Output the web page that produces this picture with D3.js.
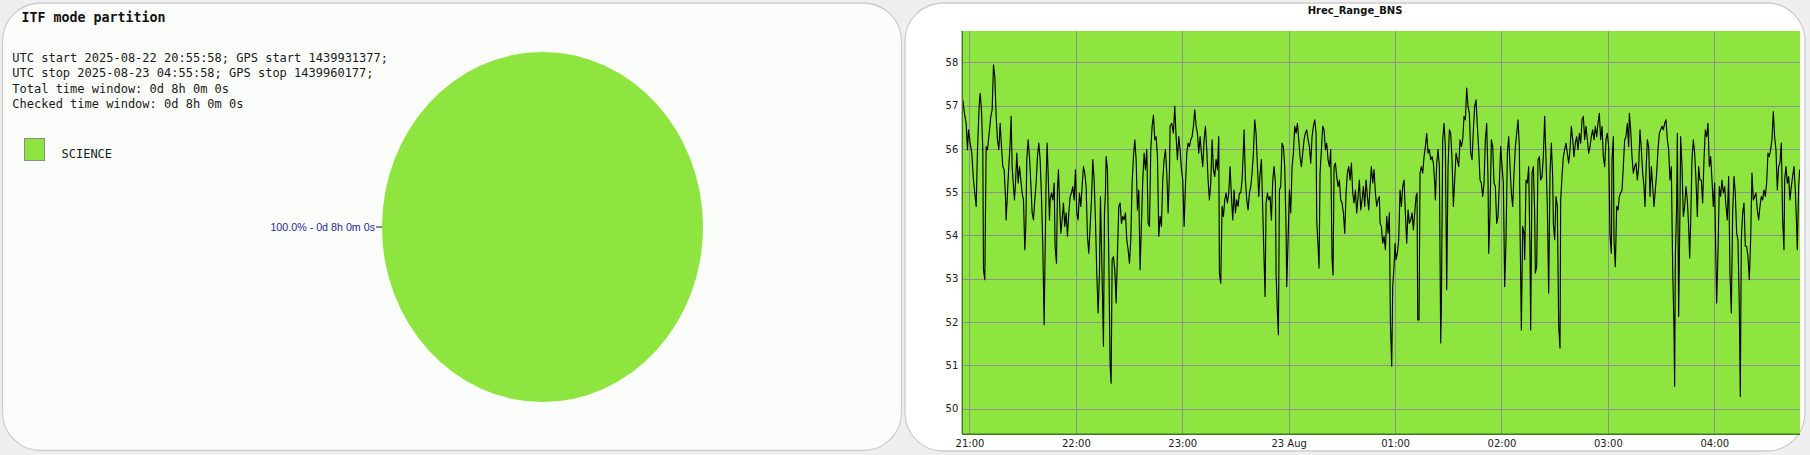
<!DOCTYPE html>
<html><head><meta charset="utf-8">
<script src="https://cdn.jsdelivr.net/npm/d3@7"></script>
<style>
html,body{margin:0;padding:0;background:#efefef;}
svg{display:block}
</style></head><body>
<svg id="c" width="1810" height="455"></svg>
<script>
// ---------------- DATA ----------------
// Left panel: ITF mode partition
const infoLines = [
  "UTC start 2025-08-22 20:55:58; GPS start 1439931377;",
  "UTC stop 2025-08-23 04:55:58; GPS stop 1439960177;",
  "Total time window: 0d 8h 0m 0s",
  "Checked time window: 0d 8h 0m 0s"
];
const modes = ["SCIENCE"];
const modeSeconds = [28800];
const modeLabels = ["100.0% - 0d 8h 0m 0s"];

// Right panel: Hrec_Range_BNS  — [minutes after 2025-08-22 21:00 UTC, value]
const seg1 = [[-3.74,57.13],[-2.99,56.86],[-1.86,56.59],[-1.11,55.98],[-0.54,56.44],[0.39,56.13],[1.33,55.90],[2.27,55.28],[3.21,54.90],[3.78,54.67],
[4.53,55.98],[5.47,56.98],[6.03,57.28],[6.78,56.90],[7.53,55.98],[7.91,53.21],[8.66,52.98],[9.41,56.05],[10.17,55.98],[10.92,56.28],
[12.05,56.75],[12.80,56.90],[13.55,57.94],[14.30,57.67],[15.05,56.75],[15.80,56.21],[16.56,55.98],[17.31,56.59],[18.06,56.05],[18.81,55.59],
[19.56,55.52],[20.31,54.90],[20.69,54.36],[21.44,54.98],[22.19,55.59],[22.95,56.13],[23.51,56.75],[24.07,55.59],[24.82,55.13],[25.39,54.82],
[25.95,55.21],[26.70,55.90],[27.45,55.21],[28.21,55.59],[28.96,55.28],[29.71,54.98],[30.46,54.82],[31.21,53.67],[31.78,54.21],[32.34,55.75],
[33.09,56.21],[33.84,55.82],[34.60,55.21],[35.35,54.52],[36.10,54.36],[36.85,54.82],[37.60,55.21],[38.35,55.82],[39.11,56.13],[39.86,55.75],
[40.61,54.90],[41.36,53.75],[42.11,51.94],[42.86,54.21],[43.24,55.28],[43.80,56.13],[44.37,55.44],[45.12,54.36],[45.49,54.82],[46.25,54.98],
[47.00,54.82],[47.75,55.21],[48.31,53.75],[49.07,53.36],[49.63,55.05],[50.19,55.52],[50.76,54.82],[51.51,54.05],[52.26,54.36],[53.01,54.75],
[53.76,54.21],[54.52,54.52],[55.27,53.98],[56.02,54.52],[56.77,54.90],[57.52,54.98],[58.27,55.13],[59.03,54.82],[59.78,55.52],[60.53,54.52],
[61.28,54.36],[62.03,54.98],[62.78,54.67],[63.53,55.13],[64.29,55.59],[65.04,55.44],[65.79,55.13],[66.54,53.98],[67.29,53.59],[68.05,54.21],
[68.80,54.82],[69.55,55.75],[70.30,55.28],[71.05,54.36],[71.80,53.13],[72.56,52.21],[73.31,53.13],[73.87,54.90],[74.44,53.75],[75.00,52.67],
[75.56,51.44],[76.13,54.52],[76.69,54.98],[77.07,55.82],[77.82,55.52],[78.57,53.51],[79.32,50.98],[79.89,50.59],[80.45,53.44],[81.20,53.51],
[81.95,53.21],[82.71,52.44],[83.46,53.59],[84.21,54.67],[84.96,54.75],[85.71,54.28],[86.46,54.44],[87.21,54.36],[87.97,54.52],[88.72,53.90],
[89.47,53.67],[90.22,53.36],[90.97,53.90],[91.72,55.21],[92.48,55.82],[93.23,56.21],[93.98,55.75],[94.73,54.59],[95.48,55.05],[96.23,53.21],
[96.99,54.28],[97.74,55.28],[98.49,55.90],[99.24,55.52],[99.99,55.98],[100.74,54.28],[101.50,54.21],[102.25,55.98],[103.00,56.52],[103.75,56.78],
[104.50,56.21],[105.25,56.28],[106.01,55.82],[106.76,53.98],[107.51,54.44],[108.26,54.21],[109.01,55.28],[109.76,55.75],[110.52,55.98],[111.27,55.44],
[112.02,54.52],[112.77,55.44]];
const seg2 = [[113.14,56.52],[114.08,56.59],[115.02,56.36],[115.77,56.98],[116.52,56.28],[117.27,55.75],[118.03,56.28],[118.78,55.98],[119.53,55.52],[120.28,55.28],
[121.03,54.21],[121.78,55.13],[122.54,55.90],[123.29,56.13],[124.04,56.05],[124.79,56.21],[125.54,56.28],[126.29,56.52],[127.05,56.90],[127.80,56.52],
[128.55,56.36],[129.30,55.90],[130.05,56.28],[130.80,55.90],[131.56,55.59],[132.31,56.21],[133.06,56.52],[133.81,55.98],[134.56,55.28],[135.31,54.82],
[136.07,55.21],[136.82,56.21],[137.57,55.52],[138.32,55.36],[139.07,55.75],[139.82,55.52],[140.58,56.28],[140.95,53.13],[141.70,52.90],[142.46,54.67],
[143.21,54.44],[143.96,54.82],[144.71,54.98],[145.46,54.75],[146.21,54.98],[146.97,55.59],[147.72,54.90],[148.47,54.36],[149.22,55.05],[149.97,54.52],
[150.72,54.82],[151.48,54.67],[152.23,54.98],[152.98,54.98],[153.73,55.28],[154.48,55.98],[154.86,56.44],[155.61,55.28],[156.36,54.82],[157.11,54.59],
[157.87,54.98],[158.62,55.13],[159.37,55.44],[160.12,55.90],[160.87,56.67],[161.62,56.36],[162.38,55.59],[163.13,54.90],[163.88,55.44],[164.63,55.75],
[165.38,54.59],[166.13,53.44],[166.70,52.59],[167.26,54.75],[168.01,54.98],[168.76,54.82],[169.52,54.90],[170.27,54.36],[171.02,55.28],[171.77,55.59],
[172.52,55.21],[172.90,53.13],[173.65,52.21],[174.21,51.71],[174.78,55.05],[175.53,55.13],[176.28,56.13],[177.03,56.05],[177.78,55.59],[178.54,54.13],
[178.91,52.82],[179.66,53.90],[180.42,55.05],[181.17,54.52],[181.92,55.59],[182.67,55.90],[183.42,56.52],[184.17,56.36],[184.93,56.59],[185.68,56.21],
[186.43,55.82],[187.18,55.59],[187.93,55.90],[188.68,56.21],[189.44,56.36],[190.19,56.44],[190.94,56.21],[191.69,56.05],[192.44,55.67],[193.19,56.28],
[193.95,56.52],[194.70,56.67],[195.45,56.36],[195.82,54.36],[196.58,53.75],[197.14,53.25],[197.70,55.44],[198.46,55.98],[199.21,56.52],[199.96,56.44],
[200.71,55.98],[201.46,56.13],[202.21,55.75],[202.97,55.59],[203.72,55.98],[204.47,53.44],[205.03,53.09],[205.60,55.59],[206.35,55.67],[207.10,55.36],
[207.85,55.13],[208.60,55.28],[209.35,54.82],[210.11,54.75],[210.86,54.52],[211.61,54.05],[212.36,54.98],[213.11,55.44],[213.87,55.59],[214.62,55.28],
[215.37,55.67],[216.12,54.98],[216.87,54.75],[217.62,55.05],[218.38,54.52],[219.13,54.90],[219.88,55.28],[220.63,54.59],[221.38,54.82],[222.13,55.13],
[222.89,54.67],[223.64,55.28],[224.39,54.90],[225.14,54.59],[225.89,55.13],[226.64,55.59],[227.40,55.21],[228.15,55.52],[228.90,54.98],[229.65,54.67],
[230.40,54.82],[231.15,54.90]];
const seg3 = [[231.53,54.28],[232.28,54.21],[233.03,53.82],[233.79,53.98],[234.54,53.67],[235.29,54.44],[236.04,54.05],[236.79,54.52],[237.36,51.98],[238.11,50.98],
[238.67,52.82],[239.42,53.28],[239.99,53.82],[240.55,53.44],[241.30,53.59],[242.05,53.90],[242.81,55.05],[243.56,54.67],[244.31,55.13],[245.06,55.28],
[245.81,54.52],[246.56,53.82],[247.32,54.59],[248.07,54.28],[248.82,54.36],[249.57,54.52],[250.32,54.13],[251.07,54.52],[251.83,54.90],[252.39,54.98],
[252.77,52.05],[253.52,52.05],[254.08,55.44],[254.83,55.59],[255.58,55.44],[256.34,55.82],[257.09,56.05],[257.84,56.36],[258.59,55.90],[259.34,55.98],
[260.09,55.75],[260.85,55.82],[261.60,55.67],[262.35,55.21],[262.73,54.82],[263.48,55.67],[264.23,55.98],[264.98,55.59],[265.73,51.52],[266.11,52.36],
[266.86,56.21],[267.61,56.59],[268.36,56.05],[269.11,52.75],[269.87,55.59],[270.62,56.44],[271.37,56.36],[272.12,55.75],[272.87,54.67],[273.62,55.28],
[274.38,55.90],[275.13,55.75],[275.88,55.59],[276.63,56.21],[277.38,56.05],[278.13,56.21],[278.89,56.75],[279.64,56.67],[280.39,57.40],[281.14,56.98],
[281.89,56.82],[282.64,55.90],[283.40,55.75],[284.15,56.44],[284.90,56.98],[285.65,57.13],[286.40,56.52],[287.15,55.98],[287.91,55.28],[288.66,55.21],
[289.41,54.90],[290.16,55.21],[290.91,56.21],[291.66,56.59],[292.42,55.28],[292.79,53.59],[293.54,54.52],[294.29,56.21],[295.05,56.05],[295.80,55.21],
[296.55,55.13],[297.30,54.28],[298.05,54.44],[298.81,55.21],[299.56,56.05],[300.31,55.59],[301.06,55.21],[301.81,52.82],[302.56,53.90],[303.32,55.90],
[304.07,56.28],[304.82,55.59],[305.57,54.98],[306.32,54.67],[307.07,55.44],[307.83,56.05],[308.58,56.36],[309.33,56.67],[310.08,56.05],[310.46,54.21],
[311.21,51.82],[311.96,54.21],[312.71,54.05],[313.09,53.44],[313.84,55.28],[314.59,55.21],[315.34,55.59],[316.09,53.59],[316.47,51.82],[317.22,55.44],
[317.97,55.59],[318.72,54.52],[319.10,53.13],[319.85,53.28],[320.60,55.75],[321.36,55.82],[322.11,55.28],[322.86,55.36],[323.61,55.82],[324.36,56.75],
[325.11,55.75],[325.87,54.67],[326.62,52.67],[327.37,55.44],[328.12,56.13],[328.87,55.36],[329.25,54.28],[330.00,53.90],[330.75,54.90],[331.50,54.67],
[332.26,51.90],[333.01,51.40],[333.38,54.82],[334.13,55.36],[334.89,55.82],[335.64,55.98],[336.39,56.13],[337.14,55.90],[337.89,55.67],[338.64,55.98],
[339.40,56.52],[340.15,56.21],[340.90,55.82],[341.65,56.13],[342.40,56.28],[343.15,55.98],[343.91,56.36],[344.66,56.13],[345.41,56.67],[346.16,56.75],
[346.91,56.21],[347.66,56.52],[348.42,56.21],[349.17,55.90]];
const seg4 = [[349.92,56.05],[350.67,56.28],[351.42,56.44],[352.18,56.21],[352.93,56.52],[353.68,56.28],[354.43,56.59],[355.18,56.82],[355.93,56.21],[356.69,56.52],
[357.44,55.82],[358.19,55.59],[358.94,56.21],[359.69,56.36],[360.44,56.05],[361.20,53.98],[361.95,53.59],[362.32,55.75],[363.07,56.28],[363.45,53.90],
[364.20,53.28],[364.95,54.67],[365.71,54.59],[366.46,54.90],[367.21,54.98],[367.96,55.05],[368.71,55.59],[369.46,56.21],[370.22,56.28],[370.97,56.59],
[371.72,56.05],[372.10,56.82],[372.85,56.44],[373.60,55.82],[374.35,55.44],[375.10,55.59],[375.85,55.67],[376.61,55.28],[377.36,55.59],[378.11,56.44],
[378.86,55.98],[379.61,55.44],[380.36,55.13],[380.93,54.67],[381.49,55.44],[382.24,56.21],[383.00,56.05],[383.75,54.90],[384.50,55.59],[385.25,55.13],
[386.00,54.67],[386.75,55.05],[387.50,55.44],[388.26,55.98],[389.01,56.36],[389.76,56.44],[390.51,56.52],[391.26,56.44],[392.01,56.59],[392.77,56.67],
[393.52,56.21],[394.27,55.98],[395.02,55.28],[395.77,55.59],[396.52,53.28],[397.28,51.82],[397.65,50.52],[398.03,53.51],[398.78,54.67],[399.16,56.36],
[399.91,52.13],[400.66,54.67],[401.03,56.28],[401.79,55.59],[402.54,54.44],[403.29,54.67],[404.04,55.13],[404.79,54.82],[405.54,54.21],[406.11,53.48],
[406.67,54.28],[407.42,55.75],[408.18,56.21],[408.93,55.90],[409.68,55.28],[410.43,54.44],[411.18,55.59],[411.93,55.28],[412.69,55.28],[413.44,54.75],
[414.19,55.75],[414.94,56.44],[415.69,56.28],[416.44,56.59],[417.20,55.59],[417.95,55.82],[418.70,55.28],[419.45,54.67],[420.20,55.21],[420.77,53.75],
[421.33,52.44],[422.08,53.59],[422.83,55.13],[423.59,54.90],[424.34,55.28],[425.09,54.98],[425.84,55.13],[426.59,54.67],[427.34,54.36],[428.10,55.36],
[428.85,53.13],[429.60,52.21],[430.35,54.52],[431.10,55.36],[431.85,54.98],[432.60,54.05],[433.36,53.90],[434.11,52.36],[434.67,50.28],[435.24,53.90],
[435.99,54.52],[436.74,54.75],[437.49,53.75],[438.24,53.75],[438.99,53.51],[439.75,52.98],[440.50,53.90],[441.25,55.44],[442.00,54.82],[442.75,54.90],
[443.50,54.98],[444.26,54.59],[445.01,54.36],[445.76,54.67],[446.51,54.90],[447.26,54.82],[448.01,55.05],[448.77,54.90],[449.52,55.21],[450.27,55.90],
[451.02,55.82],[451.77,55.98],[452.52,56.21],[453.28,56.86],[454.03,56.28],[454.78,55.98],[455.53,55.05],[456.28,55.59],[457.03,55.67],[457.79,56.13],
[458.54,54.36],[459.29,53.67],[459.67,55.28],[460.42,55.59],[461.17,55.21],[461.92,55.36],[462.67,54.82],[463.42,55.13],[464.18,55.36],[464.93,55.59],
[465.68,55.05],[466.43,54.21],[466.81,53.67],[467.56,55.13],[468.12,55.52]];

const yTicks = [50, 51, 52, 53, 54, 55, 56, 57, 58];
const xTickMinutes = [0, 60, 120, 180, 240, 300, 360, 420];
const xTickLabels = ["21:00", "22:00", "23:00", "23 Aug", "01:00", "02:00", "03:00", "04:00"];
const chartTitle = "Hrec_Range_BNS";

// ---------------- DRAW ----------------
const GREEN = "#8ee53f";
const svg = d3.select("#c");
const base = Date.UTC(2025, 7, 22, 21, 0, 0);
const toDate = m => new Date(base + m * 60000);

// panels
svg.append("rect").attr("x", 2.5).attr("y", 3).attr("width", 899).attr("height", 447.5)
  .attr("rx", 38).attr("ry", 38).attr("fill", "#fbfdfb").attr("stroke", "#cdcdcd").attr("stroke-width", 1.3);
svg.append("rect").attr("x", 905).attr("y", 3).attr("width", 900).attr("height", 448)
  .attr("rx", 38).attr("ry", 38).attr("fill", "#ffffff").attr("stroke", "#cdcdcd").attr("stroke-width", 1.3);

// ----- left panel
const mono = "'DejaVu Sans Mono', 'Liberation Mono', monospace";
svg.append("text").attr("x", 21.5).attr("y", 22).attr("font-family", mono)
  .attr("font-size", 13.3).attr("font-weight", "bold").attr("fill", "#111").text("ITF mode partition");
svg.append("g").selectAll("text").data(infoLines).join("text")
  .attr("x", 12.3).attr("y", (d, i) => 61.5 + i * 15.6)
  .attr("font-family", mono).attr("font-size", 12).attr("fill", "#1a1a1a").text(d => d);

// legend
const leg = svg.append("g").selectAll("g").data(modes).join("g");
leg.append("rect").attr("x", 24.5).attr("y", (d, i) => 138.5 + i * 30).attr("width", 20).attr("height", 22)
  .attr("fill", GREEN).attr("stroke", "#8a8a8a").attr("stroke-width", 1);
leg.append("text").attr("x", 61.5).attr("y", (d, i) => 157.5 + i * 30)
  .attr("font-family", mono).attr("font-size", 12).attr("fill", "#1a1a1a").text(d => d);

// pie (elliptical)
const pcx = 542.5, pcy = 227, prx = 160.5, pry = 175;
const pie = d3.pie().sort(null)(modeSeconds);
const arc = d3.arc().innerRadius(0).outerRadius(pry);
const pg = svg.append("g").attr("transform", `translate(${pcx},${pcy}) scale(${prx / pry},1)`);
pg.selectAll("path").data(pie).join("path").attr("d", arc).attr("fill", GREEN);
// label with leader line at the left of the pie
pie.forEach((p, i) => {
  const lx = pcx - prx;
  svg.append("line").attr("x1", lx - 6).attr("x2", lx).attr("y1", pcy).attr("y2", pcy)
    .attr("stroke", "#111").attr("stroke-width", 1);
  svg.append("text").attr("x", lx - 7).attr("y", pcy + 3.8).attr("text-anchor", "end")
    .attr("font-family", "'Liberation Sans', Arial, sans-serif").attr("font-size", 10.7)
    .attr("fill", "#2b2b8f").text(modeLabels[i]);
});

// ----- right panel
const pl = 962.3, pr = 1800, pt = 31, pb = 434.3;
const x = d3.scaleUtc().domain([toDate(-4.033), toDate(468.33)]).range([pl, pr]);
const y = d3.scaleLinear().domain([49.41, 58.72]).range([pb, pt]);

svg.append("text").attr("x", 1355).attr("y", 13.5).attr("text-anchor", "middle")
  .attr("font-family", "'DejaVu Sans', sans-serif").attr("font-size", 10).attr("font-weight", "bold")
  .attr("fill", "#111").text(chartTitle);

svg.append("rect").attr("x", pl).attr("y", pt).attr("width", pr - pl).attr("height", pb - pt).attr("fill", GREEN);

const grid = svg.append("g").attr("stroke", "#8f8f8f").attr("stroke-width", 1);
grid.selectAll("line.h").data(yTicks).join("line").attr("class", "h")
  .attr("x1", pl).attr("x2", pr).attr("y1", d => Math.round(y(d)) + 0.5).attr("y2", d => Math.round(y(d)) + 0.5);
grid.selectAll("line.v").data(xTickMinutes).join("line").attr("class", "v")
  .attr("y1", pt).attr("y2", pb).attr("x1", d => Math.round(x(toDate(d))) + 0.5).attr("x2", d => Math.round(x(toDate(d))) + 0.5);

svg.append("defs").append("clipPath").attr("id", "plotclip").append("rect")
  .attr("x", pl).attr("y", pt).attr("width", pr - pl).attr("height", pb - pt);

const series = seg1.concat(seg2, seg3, seg4);
const line = d3.line().x(d => x(toDate(d[0]))).y(d => y(d[1]));
svg.append("path").datum(series).attr("clip-path", "url(#plotclip)").attr("d", line)
  .attr("fill", "none").attr("stroke", "#000").attr("stroke-width", 1.15).attr("stroke-linejoin", "round");

// axes
const yAxis = d3.axisLeft(y).tickValues(yTicks).tickSize(0).tickPadding(4).tickFormat(d3.format("d"));
const ya = svg.append("g").attr("transform", `translate(${pl},0)`).call(yAxis);
ya.select(".domain").remove();
ya.selectAll("text").attr("font-family", "'DejaVu Sans', sans-serif").attr("font-size", 10).attr("fill", "#222");

const xAxis = d3.axisBottom(x).tickValues(xTickMinutes.map(toDate)).tickSize(0).tickPadding(6)
  .tickFormat((d, i) => xTickLabels[i]);
const xa = svg.append("g").attr("transform", `translate(0,${pb})`).call(xAxis);
xa.select(".domain").remove();
xa.selectAll("text").attr("font-family", "'DejaVu Sans', sans-serif").attr("font-size", 10).attr("fill", "#222");

// plot frame (left and bottom dark edges)
svg.append("line").attr("x1", pl).attr("x2", pl).attr("y1", pt).attr("y2", pb).attr("stroke", "#3f7a1f").attr("stroke-width", 1.4);
svg.append("line").attr("x1", pl).attr("x2", pr).attr("y1", pb).attr("y2", pb).attr("stroke", "#3f7a1f").attr("stroke-width", 1.4);
</script>
</body></html>
